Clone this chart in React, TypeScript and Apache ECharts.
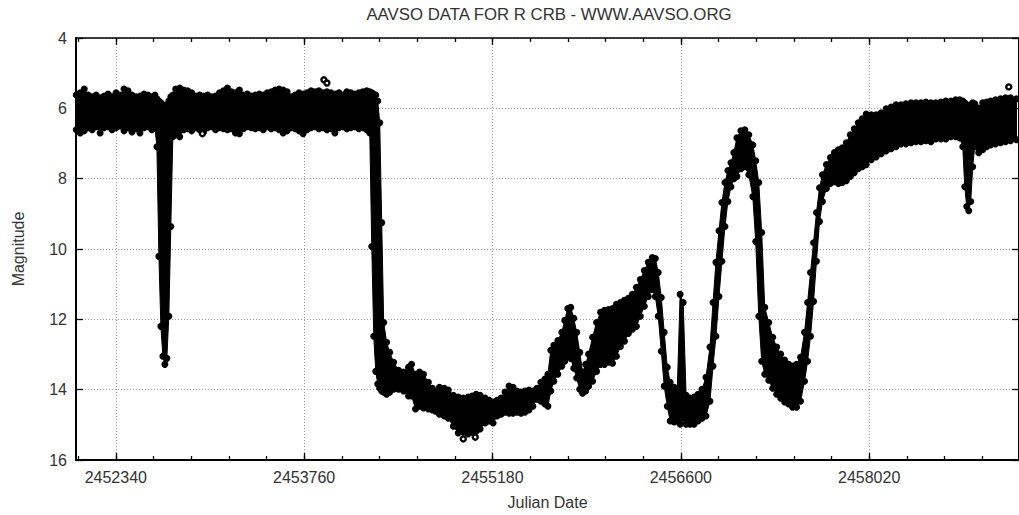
import React, { useEffect, useRef } from "react";
import * as echarts from "echarts";

// Julian dates of the sampled light-curve columns
const julianDates = [
  2452042, 2452072, 2452102, 2452132, 2452162, 2452192, 2452222, 2452252, 2452282, 2452312,
  2452342, 2452372, 2452402, 2452432, 2452462, 2452492, 2452522, 2452552, 2452582, 2452612,
  2452635, 2452650, 2452665, 2452680, 2452695, 2452710, 2452725, 2452740, 2452755, 2452770,
  2452792, 2452822, 2452852, 2452882, 2452912, 2452942, 2452972, 2453002, 2453032, 2453062,
  2453092, 2453122, 2453152, 2453182, 2453212, 2453242, 2453272, 2453302, 2453332, 2453362,
  2453392, 2453422, 2453452, 2453482, 2453512, 2453542, 2453572, 2453602, 2453632, 2453662,
  2453692, 2453722, 2453752, 2453782, 2453812, 2453842, 2453872, 2453902, 2453932, 2453962,
  2453992, 2454022, 2454052, 2454082, 2454112, 2454142, 2454172, 2454202, 2454232, 2454255,
  2454270, 2454285, 2454300, 2454315, 2454330, 2454345, 2454360, 2454382, 2454405, 2454435,
  2454472, 2454510, 2454547, 2454570, 2454600, 2454630, 2454660, 2454697, 2454727, 2454750,
  2454780, 2454817, 2454847, 2454885, 2454922, 2454960, 2454997, 2455027, 2455057, 2455087,
  2455125, 2455155, 2455185, 2455215, 2455245, 2455275, 2455305, 2455335, 2455365, 2455395,
  2455425, 2455455, 2455485, 2455515, 2455545, 2455575, 2455598, 2455620, 2455643, 2455673,
  2455703, 2455725, 2455748, 2455770, 2455793, 2455815, 2455838, 2455860, 2455883, 2455905,
  2455935, 2455965, 2455995, 2456025, 2456055, 2456085, 2456115, 2456145, 2456175, 2456205,
  2456235, 2456265, 2456295, 2456325, 2456355, 2456385, 2456408, 2456430, 2456453, 2456475,
  2456498, 2456520, 2456550, 2456573, 2456595, 2456618, 2456640, 2456670, 2456700, 2456730,
  2456760, 2456790, 2456820, 2456843, 2456865, 2456888, 2456910, 2456933, 2456955, 2456978,
  2457000, 2457023, 2457053, 2457083, 2457113, 2457143, 2457165, 2457188, 2457210, 2457233,
  2457263, 2457293, 2457323, 2457353, 2457383, 2457413, 2457443, 2457473, 2457503, 2457533,
  2457556, 2457578, 2457601, 2457623, 2457646, 2457668, 2457698, 2457728, 2457758, 2457788,
  2457818, 2457848, 2457878, 2457908, 2457938, 2457968, 2457998, 2458036, 2458073, 2458111,
  2458148, 2458186, 2458223, 2458261, 2458298, 2458336, 2458373, 2458411, 2458448, 2458486,
  2458523, 2458561, 2458598, 2458636, 2458673, 2458703, 2458726, 2458741, 2458756, 2458771,
  2458786, 2458801, 2458816, 2458846, 2458876, 2458906, 2458936, 2458973, 2459011, 2459048,
  2459086, 2459131,
];

// Brightest observed magnitude in each column (upper edge of the cloud)
const brightEdge = [
  5.62, 5.56, 5.45, 5.62, 5.67, 5.62, 5.70, 5.65, 5.59, 5.67,
  5.56, 5.62, 5.45, 5.50, 5.62, 5.67, 5.65, 5.59, 5.62, 5.67,
  5.62, 5.73, 5.79, 5.84, 5.90, 5.96, 5.90, 5.79, 5.67, 5.62,
  5.45, 5.42, 5.48, 5.50, 5.56, 5.65, 5.62, 5.65, 5.62, 5.67,
  5.65, 5.56, 5.50, 5.42, 5.53, 5.56, 5.48, 5.62, 5.59, 5.65,
  5.62, 5.59, 5.62, 5.56, 5.53, 5.48, 5.45, 5.48, 5.53, 5.67,
  5.62, 5.56, 5.59, 5.56, 5.50, 5.53, 5.50, 5.56, 5.53, 5.56,
  5.59, 5.56, 5.62, 5.53, 5.56, 5.59, 5.56, 5.53, 5.50, 5.53,
  5.56, 5.59, 5.62, 5.79, 6.41, 9.25, 12.09, 12.65, 12.94, 13.22,
  13.45, 13.50, 13.36, 13.28, 13.56, 13.50, 13.56, 13.79, 13.96, 14.07,
  13.93, 13.96, 14.01, 14.16, 14.21, 14.24, 14.21, 14.18, 14.13, 14.16,
  14.24, 14.30, 14.35, 14.30, 14.24, 14.07, 13.90, 13.93, 14.04, 14.07,
  14.04, 14.01, 14.04, 13.96, 13.79, 13.70, 13.56, 12.88, 12.74, 12.60,
  12.37, 12.03, 11.69, 11.66, 11.97, 12.37, 12.94, 13.50, 13.28, 12.99,
  12.51, 12.09, 11.80, 11.74, 11.72, 11.69, 11.57, 11.52, 11.46, 11.40,
  11.29, 11.09, 10.87, 10.61, 10.38, 10.24, 10.27, 10.67, 11.38, 12.37,
  13.36, 13.79, 13.93, 14.07, 11.29, 11.52, 14.16, 14.24, 14.21, 14.13,
  13.99, 13.65, 12.79, 11.52, 10.38, 9.48, 8.68, 8.11, 7.77, 7.55,
  7.26, 6.84, 6.64, 6.61, 6.75, 7.04, 7.49, 8.11, 9.53, 11.66,
  12.09, 12.51, 12.79, 12.99, 13.16, 13.28, 13.33, 13.28, 13.08, 12.37,
  11.52, 10.67, 9.82, 8.96, 8.26, 7.89, 7.60, 7.40, 7.26, 7.18,
  7.12, 6.98, 6.75, 6.58, 6.41, 6.30, 6.16, 6.18, 6.18, 6.13,
  6.01, 5.96, 5.90, 5.90, 5.87, 5.84, 5.84, 5.84, 5.82, 5.84,
  5.84, 5.82, 5.79, 5.79, 5.76, 5.76, 5.79, 5.84, 5.90, 5.96,
  5.90, 5.84, 5.87, 5.99, 5.84, 5.82, 5.79, 5.76, 5.73, 5.70,
  5.70, 5.73,
];

// Faintest observed magnitude in each column (lower edge of the cloud)
const faintEdge = [
  6.61, 6.70, 6.64, 6.55, 6.61, 6.52, 6.70, 6.55, 6.52, 6.61,
  6.55, 6.50, 6.64, 6.55, 6.67, 6.58, 6.70, 6.55, 6.52, 6.61,
  6.55, 7.09, 10.21, 12.20, 13.05, 13.28, 13.11, 11.91, 9.36, 6.81,
  6.75, 6.81, 6.61, 6.58, 6.64, 6.55, 6.61, 6.67, 6.55, 6.52,
  6.61, 6.55, 6.58, 6.61, 6.58, 6.70, 6.72, 6.58, 6.52, 6.55,
  6.58, 6.55, 6.61, 6.52, 6.58, 6.55, 6.61, 6.70, 6.64, 6.55,
  6.58, 6.64, 6.72, 6.61, 6.55, 6.52, 6.58, 6.55, 6.61, 6.58,
  6.70, 6.55, 6.52, 6.58, 6.55, 6.52, 6.58, 6.55, 6.61, 6.70,
  9.93, 12.48, 13.48, 13.84, 13.96, 14.04, 14.07, 14.13, 14.07, 13.99,
  13.99, 14.04, 14.18, 14.18, 14.55, 14.47, 14.52, 14.55, 14.58, 14.61,
  14.70, 14.75, 14.81, 15.04, 15.23, 15.21, 15.26, 15.21, 15.18, 15.12,
  14.95, 14.89, 14.95, 14.75, 14.70, 14.64, 14.67, 14.67, 14.64, 14.67,
  14.64, 14.58, 14.47, 14.27, 14.33, 14.41, 14.47, 14.04, 13.76, 13.56,
  13.33, 13.19, 13.05, 13.11, 13.39, 13.67, 13.99, 14.10, 14.04, 13.90,
  13.76, 13.48, 13.28, 13.28, 13.22, 13.25, 13.05, 12.77, 12.62, 12.40,
  12.28, 12.20, 11.91, 11.63, 11.35, 11.15, 11.35, 11.91, 12.91, 13.90,
  14.47, 14.89, 14.92, 14.89, 14.98, 14.81, 14.98, 14.98, 14.98, 14.89,
  14.81, 14.75, 14.33, 13.33, 12.48, 11.35, 10.35, 9.36, 8.65, 8.23,
  8.00, 7.94, 7.72, 7.66, 7.89, 8.51, 9.79, 11.91, 13.19, 13.56,
  13.73, 13.96, 14.13, 14.24, 14.35, 14.41, 14.50, 14.50, 14.33, 13.76,
  13.19, 12.48, 11.49, 10.35, 9.22, 8.65, 8.28, 8.14, 8.09, 8.14,
  8.11, 8.06, 7.94, 7.83, 7.72, 7.66, 7.60, 7.46, 7.38, 7.29,
  7.21, 7.15, 7.09, 7.01, 7.01, 6.98, 6.95, 6.95, 6.92, 6.95,
  6.87, 6.87, 6.87, 6.81, 6.81, 6.84, 7.09, 8.23, 8.79, 8.91,
  8.65, 7.66, 7.09, 7.26, 7.18, 7.09, 7.04, 7.01, 6.98, 6.95,
  6.92, 6.89,
];

// Isolated observations lying outside the main cloud
const outlierDates = [2453909, 2453932, 2452993, 2454960, 2455050, 2459073];
const outlierMags = [5.19, 5.28, 6.72, 15.4, 15.35, 5.39];

// Axis ticks
const majorTicks = [2452340, 2453760, 2455180, 2456600, 2458020];
const minorTicks = [
  2452056, 2452340, 2452624, 2452908, 2453192, 2453476, 2453760, 2454044, 2454328,
  2454612, 2454896, 2455180, 2455464, 2455748, 2456032, 2456316, 2456600, 2456884,
  2457168, 2457452, 2457736, 2458020, 2458304, 2458588, 2458872,
];

const X_MIN = 2452040;
const X_MAX = 2459150;

const FONT = "'Liberation Sans', Arial, Helvetica, sans-serif";
const TEXT = "#333";

export default function App() {
  const ref = useRef<HTMLDivElement>(null);

  useEffect(() => {
    if (!ref.current) return;
    const chart = echarts.init(ref.current, null, { renderer: "svg" });

    const cloudRows = julianDates.map((d, i) => [d, brightEdge[i], faintEdge[i]]);
    const edgePoints = julianDates
      .map((d, i) => [d, brightEdge[i]])
      .concat(julianDates.map((d, i) => [d, faintEdge[i]]));
    const outlierData = outlierDates.map((d, i) => [d, outlierMags[i]]);

    const gridLine = { show: true, lineStyle: { type: [1, 2], color: "#999", width: 1 } };
    const tickStyle = { color: "#000", width: 1.3 };

    const xAxisBase = {
      type: "value",
      min: X_MIN,
      max: X_MAX,
      splitLine: { show: false },
      axisLabel: { show: false },
    };

    const option: any = {
      animation: false,
      backgroundColor: "#fff",
      textStyle: { fontFamily: FONT },
      title: {
        text: "AAVSO DATA FOR R CRB - WWW.AAVSO.ORG",
        left: 544,
        top: 1,
        textAlign: "center",
        textStyle: { fontSize: 16.8, fontWeight: "normal", color: TEXT, fontFamily: FONT },
      },
      grid: { left: 76, right: -4, top: 38, bottom: 54, containLabel: false },
      xAxis: [
        {
          ...xAxisBase,
          position: "bottom",
          name: "Julian Date",
          nameLocation: "middle",
          nameGap: 34,
          nameTextStyle: { fontSize: 16, color: TEXT, fontFamily: FONT },
          axisLine: { show: true, onZero: false, lineStyle: { color: "#000", width: 2 } },
          axisTick: { show: true, inside: true, length: 7, customValues: majorTicks, lineStyle: tickStyle },
          axisLabel: {
            show: true,
            customValues: majorTicks,
            formatter: (v: number) => String(v),
            fontSize: 16,
            color: TEXT,
            margin: 9,
            fontFamily: FONT,
          },
          splitLine: gridLine,
        },
        {
          ...xAxisBase,
          position: "bottom",
          axisLine: { show: false, onZero: false },
          axisTick: { show: true, inside: true, length: 4, customValues: minorTicks, lineStyle: tickStyle },
        },
        {
          ...xAxisBase,
          position: "top",
          axisLine: { show: true, onZero: false, lineStyle: { color: "#000", width: 1.6 } },
          axisTick: { show: true, inside: true, length: 7, customValues: majorTicks, lineStyle: tickStyle },
        },
        {
          ...xAxisBase,
          position: "top",
          axisLine: { show: false, onZero: false },
          axisTick: { show: true, inside: true, length: 4, customValues: minorTicks, lineStyle: tickStyle },
        },
      ],
      yAxis: [
        {
          type: "value",
          position: "left",
          inverse: true,
          min: 4,
          max: 16,
          interval: 2,
          name: "Magnitude",
          nameLocation: "middle",
          nameGap: 50,
          nameTextStyle: { fontSize: 16, color: TEXT, fontFamily: FONT },
          axisLine: { show: true, onZero: false, lineStyle: { color: "#000", width: 2 } },
          axisTick: { show: true, inside: true, length: 7, lineStyle: tickStyle },
          axisLabel: { fontSize: 16, color: TEXT, margin: 9, fontFamily: FONT },
          splitLine: gridLine,
        },
        {
          type: "value",
          position: "right",
          inverse: true,
          min: 4,
          max: 16,
          interval: 2,
          axisLine: { show: true, onZero: false, lineStyle: { color: "#000", width: 2 } },
          axisTick: { show: true, inside: true, length: 7, lineStyle: tickStyle },
          axisLabel: { show: false },
          splitLine: { show: false },
        },
      ],
      series: [
        {
          type: "custom",
          name: "cloud",
          xAxisIndex: 0,
          yAxisIndex: 0,
          data: cloudRows,
          encode: { x: 0, y: [1, 2] },
          z: 2,
          renderItem: (params: any, api: any) => {
            if (params.dataIndex !== 0) return null;
            const upper = cloudRows.map((r) => api.coord([r[0], r[1]]));
            const lower = cloudRows.map((r) => api.coord([r[0], r[2]])).reverse();
            return {
              type: "polygon",
              shape: { points: upper.concat(lower) },
              style: { fill: "#000", stroke: "#000", lineWidth: 1 },
            };
          },
        },
        {
          type: "scatter",
          name: "cloud edges",
          xAxisIndex: 0,
          yAxisIndex: 0,
          data: edgePoints,
          symbol: "circle",
          symbolSize: 7,
          itemStyle: { color: "#000", opacity: 1, borderWidth: 0 },
          z: 3,
        },
        {
          type: "scatter",
          name: "outliers",
          xAxisIndex: 0,
          yAxisIndex: 0,
          data: outlierData,
          symbol: "circle",
          symbolSize: 5,
          itemStyle: { color: "#fff", opacity: 1, borderColor: "#000", borderWidth: 2.4 },
          z: 4,
        },
      ],
    };

    chart.setOption(option);
    return () => chart.dispose();
  }, []);

  return (
    <div
      ref={ref}
      style={{ position: "absolute", left: 0, top: 0, width: 1019, height: 515, background: "#fff" }}
    />
  );
}
